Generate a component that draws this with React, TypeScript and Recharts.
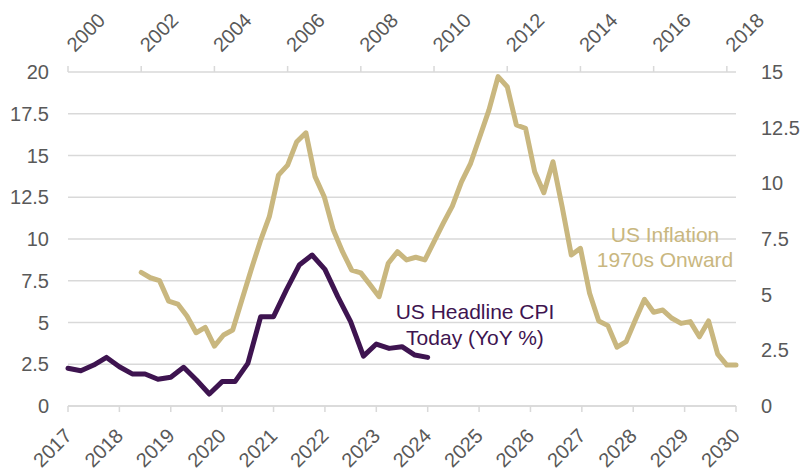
import { CartesianGrid, Line, LineChart, XAxis, YAxis } from 'recharts';

// quarterly readings
const cpiStart = 2017;
const cpiToday = [
  2.26, 2.11, 2.45, 2.91, 2.35, 1.92, 1.92, 1.6, 1.72, 2.32, 1.56, 0.72, 1.46, 1.46, 2.55,
  5.35, 5.35, 6.95, 8.44, 9.04, 8.18, 6.55, 5.05, 2.99, 3.71, 3.45, 3.55, 3.05, 2.91,
];

const inflationStart = 2002;
const inflation1970s = [
  6.0, 5.76, 5.63, 4.71, 4.58, 4.04, 3.29, 3.53, 2.69, 3.19, 3.41, 4.76, 6.1, 7.38, 8.5,
  10.37, 10.82, 11.87, 12.27, 10.3, 9.4, 7.9, 6.93, 6.1, 5.98, 5.45, 4.91, 6.41, 6.93, 6.56,
  6.68, 6.56, 7.38, 8.2, 8.98, 10.07, 10.9, 12.09, 13.29, 14.79, 14.34, 12.62, 12.47, 10.52,
  9.58, 10.97, 8.95, 6.78, 7.08, 5.06, 3.82, 3.61, 2.64, 2.89, 3.86, 4.79, 4.21, 4.31, 3.94,
  3.71, 3.79, 3.11, 3.82, 2.33, 1.84, 1.84,
];

const bottomYears = [2017, 2018, 2019, 2020, 2021, 2022, 2023, 2024, 2025, 2026, 2027, 2028, 2029, 2030];
const topYears = [2000, 2002, 2004, 2006, 2008, 2010, 2012, 2014, 2016, 2018];
const leftTicks = [0, 2.5, 5, 7.5, 10, 12.5, 15, 17.5, 20];
const rightTicks = [0, 2.5, 5, 7.5, 10, 12.5, 15];

const cpiData = cpiToday.map((v, i) => ({ t: cpiStart + i / 4, v }));
const inflationData = inflation1970s.map((v, i) => ({ t: inflationStart + i / 4, v }));

const PURPLE = '#3e1450';
const GOLD = '#c9b77f';
const GREY = '#595959';
const GRID = '#d9d9d9';
const FONT = '"Liberation Sans", Arial, sans-serif';

const BottomTick = ({ x, y, payload }: any) => {
  const ax = x + 5;
  const ay = y + 23;
  return (
    <text x={ax} y={ay} transform={`rotate(-45 ${ax} ${ay})`} textAnchor="end" fill={GREY} fontSize={20} fontFamily={FONT}>
      {payload.value}
    </text>
  );
};

const TopTick = ({ x, y, payload }: any) => {
  const ax = x + 7;
  const ay = y - 11;
  return (
    <text x={ax} y={ay} transform={`rotate(-45 ${ax} ${ay})`} textAnchor="start" fill={GREY} fontSize={20} fontFamily={FONT}>
      {payload.value}
    </text>
  );
};

const App = () => (
  <div style={{ position: 'absolute', left: 0, top: 0 }}>
    <LineChart width={805} height={476} margin={{ top: 0, right: 0, left: 0, bottom: 0 }}>
      <CartesianGrid xAxisId="bottom" yAxisId="left" vertical={false} stroke={GRID} strokeWidth={1.5} />
      <XAxis
        xAxisId="bottom"
        type="number"
        dataKey="t"
        orientation="bottom"
        domain={[2017, 2030]}
        ticks={bottomYears}
        interval={0}
        height={70}
        axisLine={{ stroke: GRID, strokeWidth: 1.5 }}
        tickLine={{ stroke: GRID, strokeWidth: 1.5 }}
        tick={<BottomTick />}
      />
      <XAxis
        xAxisId="top"
        type="number"
        dataKey="t"
        orientation="top"
        domain={[2000, 2018.25]}
        ticks={topYears}
        interval={0}
        height={72}
        axisLine={false}
        tickLine={{ stroke: GRID, strokeWidth: 1.5 }}
        tick={<TopTick />}
      />
      <YAxis
        yAxisId="left"
        orientation="left"
        domain={[0, 20]}
        ticks={leftTicks}
        interval={0}
        width={68}
        axisLine={false}
        tickLine={false}
        tickMargin={13}
        tick={{ fill: GREY, fontSize: 20, fontFamily: FONT }}
      />
      <YAxis
        yAxisId="right"
        orientation="right"
        domain={[0, 15]}
        ticks={rightTicks}
        interval={0}
        width={69}
        axisLine={false}
        tickLine={false}
        tickMargin={19}
        tick={{ fill: GREY, fontSize: 20, fontFamily: FONT }}
      />
      <Line
        xAxisId="top"
        yAxisId="right"
        data={inflationData}
        dataKey="v"
        type="linear"
        stroke={GOLD}
        strokeWidth={5}
        strokeLinejoin="round"
        strokeLinecap="round"
        dot={false}
        activeDot={false}
        isAnimationActive={false}
      />
      <Line
        xAxisId="bottom"
        yAxisId="left"
        data={cpiData}
        dataKey="v"
        type="linear"
        stroke={PURPLE}
        strokeWidth={5}
        strokeLinejoin="round"
        strokeLinecap="round"
        dot={false}
        activeDot={false}
        isAnimationActive={false}
      />
      <text x={475} y={319} textAnchor="middle" fill={PURPLE} fontSize={21} fontFamily={FONT}>
        US Headline CPI
      </text>
      <text x={475} y={345} textAnchor="middle" fill={PURPLE} fontSize={21} fontFamily={FONT}>
        Today (YoY %)
      </text>
      <text x={665} y={242} textAnchor="middle" fill={GOLD} fontSize={21} fontFamily={FONT}>
        US Inflation
      </text>
      <text x={665} y={267} textAnchor="middle" fill={GOLD} fontSize={21} fontFamily={FONT}>
        1970s Onward
      </text>
    </LineChart>
  </div>
);

export default App;
